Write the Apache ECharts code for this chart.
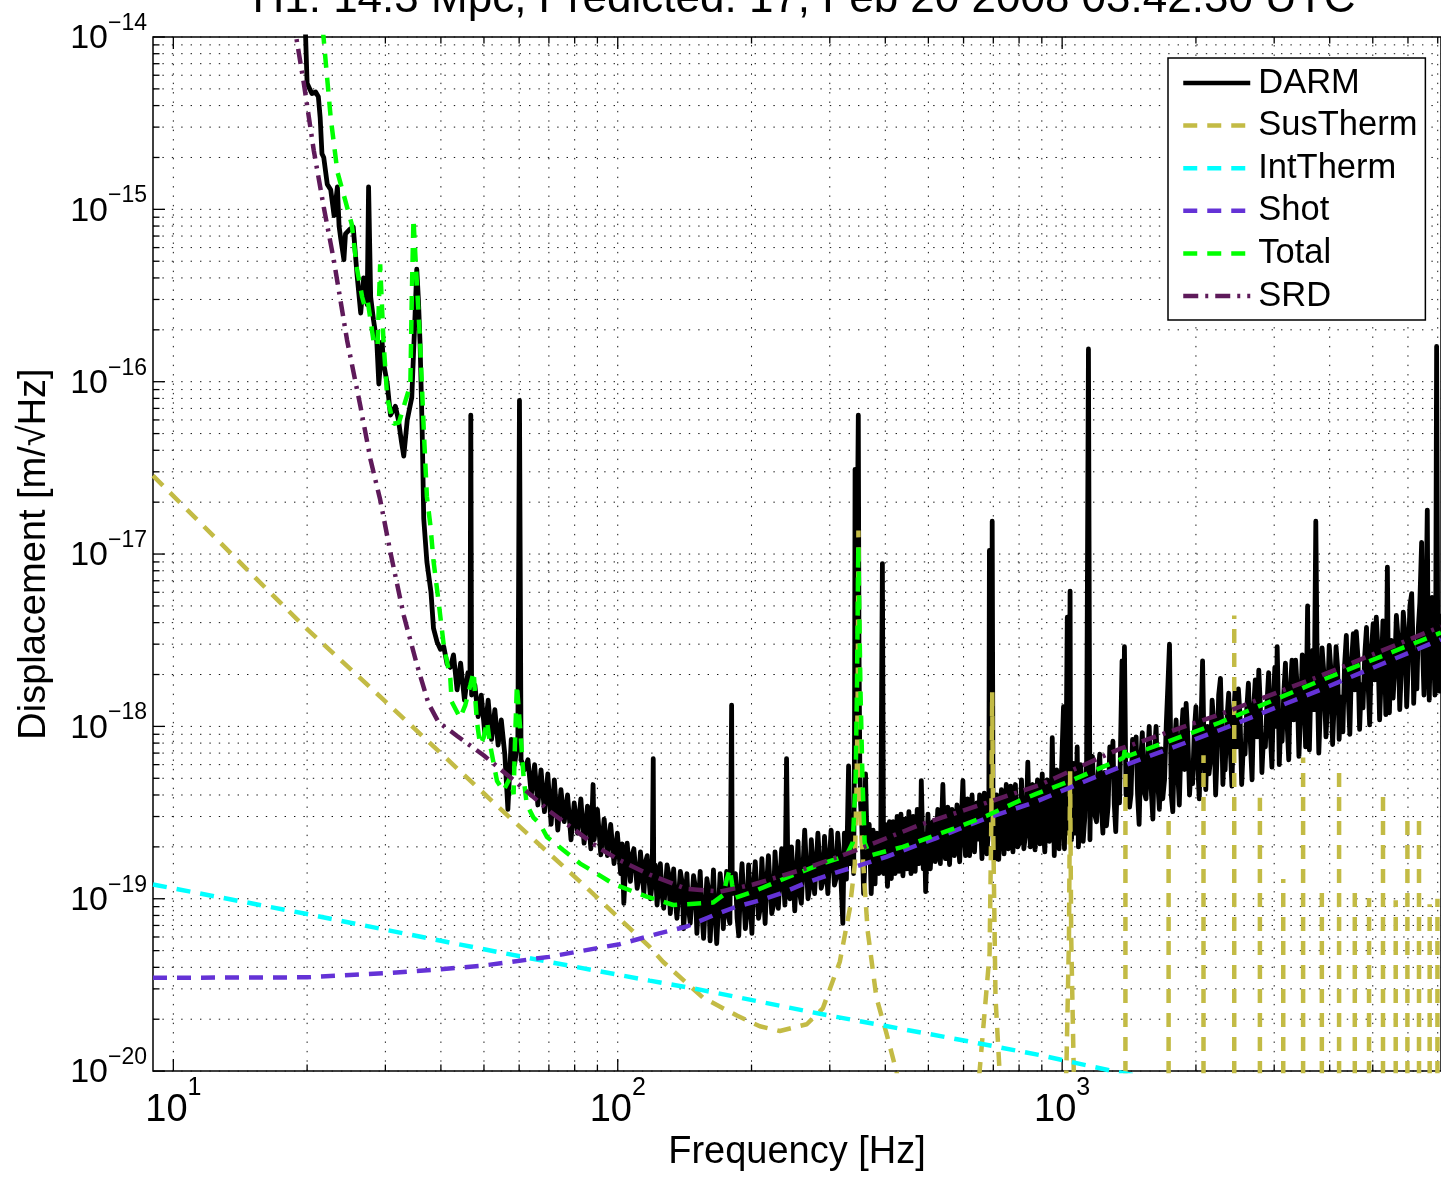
<!DOCTYPE html>
<html><head><meta charset="utf-8">
<script src="https://cdn.jsdelivr.net/npm/echarts@6/dist/echarts.min.js"></script>
<style>html,body{margin:0;padding:0;background:#fff;}#c{width:1441px;height:1177px;}</style>
</head><body><div id="c"></div>
<script>
const titleText = 'H1: 14.3 Mpc, Predicted: 17, Feb 20 2008 03:42:30 UTC';
const xTicks = [10, 100, 1000];
const yTicks = [1e-20, 1e-19, 1e-18, 1e-17, 1e-16, 1e-15, 1e-14];
const xGridVals = [10,20,30,40,50,60,70,80,90,100,200,300,400,500,600,700,800,900,1000,2000,3000,4000,5000,6000,7000];
const yGridMult = [1,2,3,4,5,6,7,8,9];
const yGridDecades = [-20,-19,-18,-17,-16,-15];
const X_MIN = 9, X_MAX = 7120, Y_MIN = 1e-20, Y_MAX = 1e-14;

// DARM: envelope / line features
const darmMain = [
[19.8,1.2e-14],[20.0,5.4e-15],[20.2,5.1e-15],[20.5,4.7e-15],[20.9,4.8e-15],[21.2,4.5e-15],[21.4,3.4e-15],[21.6,2.1e-15],[21.8,2.0e-15],[22.2,1.4e-15],[22.6,1.3e-15],[23.0,9.2e-16],[23.4,1.35e-15],[23.6,8.0e-16],[23.8,6.8e-16],[24.2,5.1e-16],[24.4,7.2e-16],[25.0,7.7e-16],[25.4,7.9e-16],[25.9,4.2e-16],[26.4,2.5e-16],[26.8,4.0e-16],[27.3,2.8e-16],[27.5,1.35e-15],[27.8,3.1e-16],[28.2,2.3e-16],[28.7,1.7e-16],[29.0,9.7e-17],[29.5,1.7e-16],[29.7,1.3e-16],[30.3,9.7e-17],[30.8,6.4e-17],[31.6,7.2e-17],[32.1,6.0e-17],[32.6,4.5e-17],[33.0,3.7e-17],[33.6,6.0e-17],[34.4,8.1e-17],[35.0,2.5e-16],[35.3,4.5e-16],[35.6,3.0e-16],[35.9,1.7e-16],[36.3,5.3e-17],[36.6,1.6e-17],[37.2,9.0e-18],[38.0,6.0e-18],[38.5,3.7e-18],[39.2,3.1e-18],[39.9,2.8e-18],[40.6,2.9e-18],[41.3,2.3e-18],[42.0,2.2e-18],[42.7,2.6e-18],
[43.5,1.63e-18],[44.3,2.33e-18],[45.2,1.42e-18],[46.0,2.05e-18],[46.5,1.74e-18],[46.7,6.4e-17],[46.9,1.52e-18],[47.7,1.74e-18],[48.5,1.14e-18],[49.3,1.52e-18],[50.2,9.2e-19],[51.1,1.42e-18],[52.0,8.4e-19],[52.9,1.25e-18],[53.8,7.8e-19],[54.7,1.09e-18],[55.7,6.9e-19],[56.6,3.3e-19],[57.6,8.4e-19],[58.6,6.0e-19],[59.6,8.4e-19],[60.1,7.8e-17],[60.6,6.4e-19],[61.7,5.6e-19],[62.8,6.4e-19],[63.9,4.0e-19],[65.0,6.0e-19],[66.1,3.5e-19],[67.2,5.6e-19],[68.4,3.2e-19],[69.6,5.3e-19],[70.8,2.7e-19],[72.0,4.9e-19],[73.3,2.5e-19],[74.5,4.3e-19],[75.8,2.8e-19],[77.1,4.0e-19],[78.5,2.2e-19],[79.8,3.6e-19],[81.2,2.4e-19],[82.6,3.8e-19],[84.0,2.1e-19],[85.5,3.45e-19],[87.0,1.95e-19],[88.0,4.6e-19],[88.5,2.2e-19],[90.0,3.3e-19],[91.6,1.8e-19],[93.2,2.9e-19],[94.8,1.78e-19],[96.4,2.7e-19],[98.1,1.6e-19],[99.8,2.4e-19],[101.5,1.4e-19],[103.2,9.4e-20],[105.0,2.1e-19],[106.8,1.26e-19],[108.7,1.95e-19],[110.6,1.15e-19],[112.5,1.87e-19],[114.5,1.07e-19],[116.5,1.78e-19],[118.5,1.0e-19],[120.2,6.5e-19],[120.5,1.4e-19],[122.6,9.2e-20],[124.7,1.6e-19],[126.9,8.8e-20],[129.1,1.57e-19],[131.3,8.2e-20],[133.6,1.49e-19],[135.9,7.7e-20],[138.3,1.44e-19],[140.7,6.7e-20],[143.1,1.4e-19],[145.6,7.2e-20],[148.1,1.36e-19],[150.7,6.3e-20],[153.3,1.44e-19],[156.0,5.9e-20],[158.7,1.31e-19],[161.4,5.7e-20],[164.2,1.47e-19],[167.0,5.5e-20],[170.0,1.4e-19],[172.8,6.7e-20],[175.8,1.44e-19],[178.8,7.2e-20],[180.4,1.33e-18],[181.0,1.07e-19],[184.0,1.4e-19],[187.2,6.1e-20],[190.4,1.6e-19],[193.7,6.7e-20],[197.0,1.57e-19],[200.4,6.3e-20],[203.9,1.64e-19],[207.4,7.7e-20],[211.0,1.71e-19],[214.6,7.2e-20],[218.3,1.78e-19],[222.1,8.2e-20],[225.9,1.87e-19],[229.8,8.8e-20],[233.8,1.95e-19],[237.8,9.2e-20],[239.8,6.5e-19],[241.8,1.07e-19],[246.0,2.0e-19],[250.2,8.5e-20],[254.5,2.15e-19],[258.9,9.4e-20],[263.4,2.5e-19],[268.0,1.0e-19],[272.6,2.2e-19],[277.3,1.07e-19],[282.1,2.4e-19],[287.0,1.15e-19],[291.9,2.3e-19],[297.0,1.07e-19],[302.1,2.5e-19],[307.3,1.2e-19],[312.6,2.4e-19],[318.0,1.26e-19],[321.0,7.2e-20],[323.5,2.4e-19],[327.0,1.3e-19],[330.7,5.9e-19],[333.0,1.6e-19],[336.5,2.7e-19],[339.5,1.4e-19],[341.0,8e-19],[342.0,3.1e-17],[343.5,1.5e-18],[345.0,8e-19],[346.2,1.6e-17],[347.8,6.4e-17],[349.0,3e-18],[350.5,6e-19],[352.0,3.5e-19],[354.0,2.7e-19],[357.5,1.07e-19],[361.0,5.3e-19],[364.5,1.71e-19],[368.0,2.7e-19],[371.8,1.07e-19],[375.5,2.5e-19],[379.3,1.22e-19],[383.1,2.4e-19],[387.0,1.4e-19],[390.8,2.5e-19],[394.0,8.8e-18],[396.5,1.4e-19],[400.5,2.7e-19],[404.5,1.18e-19],[408.6,2.8e-19],[412.7,1.31e-19],[416.8,2.8e-19],[421.0,1.4e-19],[425.2,3.0e-19],[429.5,1.44e-19],[433.8,3.1e-19],[438.2,1.36e-19],[442.6,2.9e-19],[447.0,1.49e-19],[452.0,3.2e-19],[457.0,1.4e-19],[462.0,3.0e-19],[467.0,1.44e-19],[472.0,3.3e-19],[477.0,1.6e-19],[482.0,4.85e-19],[487.0,1.49e-19],[493.0,1.1e-19],[499.0,3.1e-19],[505.0,1.49e-19],[512.0,2.8e-19],[518.0,1.64e-19],[525.0,3.3e-19],[532.0,1.6e-19],[539.0,4.6e-19],[546.0,1.71e-19],[553.0,3.4e-19],[558.0,1.58e-19],[565.0,3.3e-19],[572.0,1.78e-19],[580.0,3.5e-19],[588.0,1.64e-19],[598.0,4.85e-19],[606.0,1.78e-19],[613.0,3.8e-19],[619.0,1.78e-19],[627.0,4.0e-19],[635.0,1.87e-19],[643.0,3.6e-19],[652.0,4.0e-19],[660.0,1.71e-19],[668.0,4.1e-19],[677.0,1.82e-19],[684.0,3.5e-19],[686.0,1.05e-17],[689.0,3.1e-19],[693.0,3.5e-19],[696.0,1.55e-17],[699.0,3.1e-19],[705.0,1.69e-19],[712.0,4.0e-19],[720.0,1.69e-19],[730.0,4.3e-19],[740.0,1.82e-19],[748.6,4.6e-19],[757.0,1.95e-19],[766.0,4.5e-19],[775.0,1.87e-19],[785.0,4.6e-19],[794.0,2.0e-19],[801.0,2.1e-19],[810.0,4.9e-19],[820.0,1.95e-19],[837.0,6.2e-19],[848.0,2.0e-19],[859.0,4.6e-19],[869.0,1.92e-19],[880.0,4.9e-19],[891.0,2.08e-19],[902.0,5.3e-19],[914.0,1.87e-19],[925.0,4.9e-19],[936.0,2.15e-19],[950.0,8.6e-19],[960.0,1.78e-19],[972.0,5.6e-19],[984.0,1.95e-19],[996.0,5.3e-19],[1007.0,1.3e-18],[1012.0,1.95e-19],[1020.0,5.6e-19],[1027.0,4.3e-18],[1034.0,2.4e-19],[1042.0,6.1e-18],[1050.0,2.2e-19],[1062.0,6.1e-19],[1072.0,2.4e-19],[1081.0,7.6e-19],[1088.0,2.0e-19],[1100.0,6.0e-19],[1115.0,2.15e-19],[1135.0,6.4e-19],[1146.0,1.55e-16],[1155.0,2.2e-19],[1170.0,6.7e-19],[1195.0,2.8e-19],[1215.0,6.9e-19],[1235.0,2.4e-19],[1258.0,2.65e-19],[1280.0,7.6e-19],[1301.0,8.2e-19],[1320.0,2.45e-19],[1346.0,3.6e-19],[1364.0,2.4e-18],[1372.0,6.9e-19],[1381.0,2.9e-18],[1392.0,4.0e-19],[1418.0,3.4e-19],[1440.0,8.4e-19],
[1467.0,8.7e-19],[1490.0,2.7e-19],[1515.0,9.2e-19],[1544.0,3.8e-19],[1570.0,1.0e-18],[1600.0,2.9e-19],[1627.0,1.0e-18],[1655.0,3.3e-19],[1684.0,3.8e-19],[1715.0,1.02e-18],[1730.0,1.76e-18],[1744.0,3.0e-18],[1760.0,4.0e-19],[1774.0,3.2e-19],[1805.0,1.09e-18],[1835.0,3.5e-19],[1870.0,1.25e-18],[1901.0,1.36e-18],[1935.0,4.0e-19],[1966.0,4.65e-19],[2000.0,1.3e-18],[2035.0,3.8e-19],[2070.0,2.4e-18],[2105.0,4.3e-19],[2140.0,5.3e-19],[2175.0,1.42e-18],[2215.0,4.0e-19],[2250.0,1.52e-18],[2271.0,1.9e-18],[2300.0,4.6e-19],[2327.0,5.6e-19],[2370.0,1.56e-18],[2410.0,4.5e-19],[2450.0,1.63e-18],[2492.0,1.65e-18],[2535.0,4.6e-19],[2580.0,6.9e-19],[2625.0,1.78e-18],[2675.0,4.9e-19],[2720.0,1.86e-18],[2770.0,2.12e-18],[2815.0,5.4e-19],[2866.0,7.6e-19],[2915.0,2.05e-18],[2965.0,5.8e-19],[3010.0,2.2e-18],[3047.0,2.9e-18],[3080.0,6.0e-19],[3126.0,8.2e-19],[3180.0,2.33e-18],[3235.0,6.4e-19],[3290.0,2.42e-18],[3352.0,2.42e-18],[3410.0,6.7e-19],[3470.0,2.6e-18],[3530.0,7.6e-19],[3567.0,5.0e-18],[3600.0,7.3e-19],[3660.0,2.76e-18],[3722.0,1.55e-17],[3780.0,7.0e-19],[3845.0,2.85e-18],[3923.0,8.7e-19],[3990.0,2.95e-18],[4060.0,7.85e-19],[4134.0,2.9e-18],[4200.0,8.4e-19],[4282.0,9.3e-19],[4360.0,3.37e-18],[4440.0,9.0e-19],[4520.0,3.45e-18],[4590.0,3.55e-18],[4670.0,9.6e-19],[4753.0,1.28e-18],[4840.0,3.75e-18],[4920.0,1.02e-18],[5010.0,3.95e-18],[5092.0,4.3e-18],[5180.0,1.09e-18],[5270.0,4.1e-18],[5350.0,1.17e-18],[5393.0,8.4e-18],[5450.0,1.2e-18],[5555.0,1.46e-18],[5650.0,4.4e-18],[5750.0,1.25e-18],[5856.0,4.6e-18],[5960.0,1.3e-18],[6060.0,5.0e-18],[6116.0,5.9e-18],[6180.0,1.36e-18],[6283.0,1.65e-18],[6380.0,5.2e-18],[6440.0,1.17e-17],[6520.0,1.52e-18],[6632.0,1.8e-17],[6700.0,1.42e-18],[6800.0,5.6e-18],[6900.0,1.52e-18],[6960.0,1.6e-16],[7000.0,3.4e-18],[7060.0,1.6e-18],[7120.0,4.5e-18]
];

// DARM: dense middle of the noise band
const darmFill = [
[102.3,2.08e-19],[104.1,1.49e-19],[107.7,1.78e-19],[111.5,1.31e-19],[115.5,1.64e-19],[119.5,1.22e-19],[121.5,1.57e-19],[125.8,1.07e-19],[130.2,1.4e-19],[134.7,1.0e-19],[139.5,1.26e-19],[144.3,8.79e-20],[149.4,1.18e-19],[154.6,8.4e-20],[160.0,1.13e-19],[165.6,8.23e-20],[171.4,1.1e-19],[177.3,8.0e-20],[182.5,1.07e-19],[185.6,7.7e-20],[188.8,1.15e-19],[195.3,8.23e-20],[202.1,1.2e-19],[209.2,8.79e-20],[216.5,1.26e-19],[224.0,9.1e-20],[231.8,1.31e-19],[244.0,1.0e-19],[248.1,1.36e-19],[256.7,1.07e-19],[261.0,1.49e-19],[270.3,1.15e-19],[279.7,1.6e-19],[289.5,1.26e-19],[299.5,1.71e-19],[310.0,1.31e-19],[315.3,1.82e-19],[325.0,1.4e-19],[355.7,1.78e-19],[359.2,1.44e-19],[366.3,1.87e-19],[373.7,1.47e-19],[381.2,1.95e-19],[389.0,1.57e-19],[398.5,2.08e-19],[406.5,1.6e-19],[414.7,2.08e-19],[423.1,1.64e-19],[431.6,2.15e-19],[440.4,1.69e-19],[449.5,2.22e-19],[459.5,1.78e-19],[469.5,2.3e-19],[479.5,1.82e-19],[490.0,2.38e-19],[502.0,1.87e-19],[515.0,2.45e-19],[528.5,1.92e-19],[542.5,2.5e-19],[555.5,2.0e-19],[568.5,2.56e-19],[584.0,2.08e-19],[602.0,2.62e-19],[616.0,2.15e-19],[631.0,2.71e-19],[647.5,2.22e-19],[664.0,2.8e-19],[680.5,2.22e-19],[702.0,2.85e-19],[716.0,2.3e-19],[735.0,2.9e-19],[752.0,2.38e-19],[770.5,3.0e-19],[789.5,2.45e-19],[805.5,3.1e-19],[828.5,2.45e-19],[842.5,3.2e-19],[864.0,2.5e-19],[885.5,3.2e-19],[908.0,2.5e-19],[930.5,3.25e-19],[943.0,2.56e-19],[966.0,3.3e-19],[990.0,2.62e-19],
[1016,4.04e-19],[1045,2.71e-19],[1068,4.15e-19],[1093,2.65e-19],[1108,4.61e-19],[1125,3.0e-19],[1160,4.7e-19],[1183,3.1e-19],[1205,5.26e-19],[1225,3.45e-19],[1247,5.4e-19],[1269,3.45e-19],[1290,5.26e-19],[1310,3.54e-19],[1333,5.5e-19],[1355,3.6e-19],[1405,6.0e-19],[1429,4.04e-19],[1453,6.2e-19],[1478,4.04e-19],[1502,6.3e-19],[1530,4.15e-19],[1557,6.4e-19],[1585,4.5e-19],[1614,7.2e-19],[1641,4.7e-19],[1670,7.4e-19],[1700,4.9e-19],[1790,7.84e-19],[1820,5.4e-19],[1852,8.37e-19],[1885,5.62e-19],[1918,8.7e-19],[1950,5.8e-19],[1983,9.3e-19],[2017,6.2e-19],[2052,9.56e-19],[2088,6.42e-19],[2122,1.0e-18],[2157,6.42e-19],[2195,1.02e-18],[2232,6.86e-19],[2285,1.05e-18],[2313,7.1e-19],[2348,1.09e-18],[2390,7.33e-19],[2430,1.14e-18],[2470,7.6e-19],[2513,1.17e-18],[2557,7.84e-19],[2602,1.25e-18],[2650,8.37e-19],[2698,1.3e-18],[2745,8.7e-19],[2792,1.33e-18],[2840,8.95e-19],[2890,1.36e-18],[2940,9.2e-19],[2988,1.42e-18],[3030,1.0e-18],[3063,1.52e-18],[3103,1.02e-18],[3153,1.56e-18],[3207,1.05e-18],[3262,1.63e-18],[3320,1.09e-18],[3380,1.68e-18],[3440,1.17e-18],[3500,1.79e-18],[3583,1.2e-18],[3630,1.86e-18],[3690,1.25e-18],[3750,1.93e-18],[3812,1.3e-18],[3880,2.05e-18],[3955,1.36e-18],[4025,2.12e-18],[4097,1.42e-18],[4167,2.2e-18],[4240,1.48e-18],[4320,2.27e-18],[4400,1.56e-18],[4480,2.38e-18],[4555,1.63e-18],[4630,2.52e-18],[4710,1.74e-18],[4796,2.59e-18],[4880,1.79e-18],[4965,2.76e-18],[5050,1.86e-18],[5135,2.85e-18],[5225,1.99e-18],[5310,3.0e-18],[5420,2.05e-18],[5500,3.16e-18],[5600,2.12e-18],[5700,3.27e-18],[5800,2.2e-18],[5910,3.37e-18],[6010,2.33e-18],[6150,3.5e-18],[6230,2.42e-18],[6330,3.7e-18],[6480,2.59e-18],[6580,3.9e-18],[6660,2.68e-18],[6750,4.12e-18],[6850,2.76e-18],[6930,4.3e-18],[7030,2.85e-18],[7090,4.12e-18]
];

const susTherm = [
[9,2.85e-17],[19.6,3.85e-18],[29.7,1.43e-18],[57.3,2.94e-19],[83.6,1.21e-19],[118,5.25e-20],[126.4,4.31e-20],[155.5,2.67e-20],[185.4,2.1e-20],[208.8,1.82e-20],[231.6,1.71e-20],[266.3,1.87e-20],[289.3,2.31e-20],[316,4.31e-20],[332.7,8.7e-20],[341.5,1.58e-19],[345,5.1e-19],[346.8,1.7e-18],[348,1.37e-17],[349.5,1.5e-18],[351.6,2.86e-19],[359.4,1.18e-19],[365.1,6.5e-20],[382,2.67e-20],[402.3,1.66e-20],[423.6,1.0e-20],[440,6e-21],[640,6e-21],[652,1.0e-20],[686.6,4.8e-20],[693,3e-19],[696,1.58e-18],[699,3e-19],[708,2.67e-20],[723,1.0e-20],[735,6e-21],[1010,6e-21],[1022,1.0e-20],[1036,6e-20],[1042,5.5e-19],[1048,6e-20],[1062,1.0e-20],[1075,6e-21],[1076,'-'],
[1388,5e-21],[1388,5.3e-19],[1389,'-'],[1736,5e-21],[1736,3.2e-19],[1737,'-'],[2080,5e-21],[2080,6.8e-19],[2081,'-'],[2439,5e-21],[2439,4.4e-18],[2440,'-'],[2786,5e-21],[2786,3.85e-19],[2787,'-'],[3144,5e-21],[3144,1.3e-19],[3145,'-'],[3485,5e-21],[3485,6.6e-19],[3486,'-'],[3840,5e-21],[3840,1.23e-19],[3841,'-'],[4199,5e-21],[4199,5.6e-19],[4200,'-'],[4555,5e-21],[4555,1.08e-19],[4556,'-'],[4904,5e-21],[4904,1.01e-19],[4905,'-'],[5272,5e-21],[5272,4.0e-19],[5273,'-'],[5631,5e-21],[5631,9.8e-20],[5632,'-'],[5983,5e-21],[5983,3.2e-19],[5984,'-'],[6353,5e-21],[6353,2.9e-19],[6354,'-'],[6714,5e-21],[6714,9.3e-20],[6715,'-'],[6990,5e-21],[6990,1.0e-19]
];

const intTherm = [[9,1.21e-19],[20,8.15e-20],[40,5.7e-20],[70,4.3e-20],[118,3.35e-20],[155,2.95e-20],[285,2.15e-20],[566,1.55e-20],[889,1.24e-20],[1300,1.0e-20],[1600,9e-21]];

const shot = [[9,3.48e-20],[20,3.5e-20],[30,3.7e-20],[40,3.9e-20],[50,4.1e-20],[70,4.6e-20],[91,5.2e-20],[101,5.45e-20],[124,6.3e-20],[143,6.9e-20],[164,8.0e-20],[185,9.0e-20],[209,9.8e-20],[232,1.07e-19],[266,1.24e-19],[305,1.4e-19],[338,1.52e-19],[402,1.75e-19],[521,2.25e-19],[675,2.93e-19],[859,3.6e-19],[1346,5.8e-19],[2257,9.5e-19],[3786,1.62e-18],[7120,3.2e-18]];

const total = [[21.7,1.1e-14],[22.6,3.4e-15],[23.4,1.65e-15],[24.6,1.03e-15],[25.2,8.2e-16],[25.9,4.5e-16],[26.6,3.1e-16],[27.0,2.7e-16],[27.4,2.9e-16],[28.2,1.74e-16],[28.8,1.6e-16],[29.2,4.8e-16],[29.7,1.74e-16],[30.3,8.0e-17],[31.3,5.7e-17],[32.2,5.8e-17],[33.0,7.2e-17],[34.15,9.6e-17],[34.4,3.1e-16],[34.7,8.8e-16],[35.1,5.0e-16],[35.9,1.74e-16],[36.6,5.3e-17],[37.2,2.16e-17],[37.9,1.45e-17],[38.5,9.1e-18],[39.5,5.36e-18],[40.6,2.95e-18],[42.0,1.9e-18],[42.3,1.39e-18],[44.2,1.12e-18],[45.4,1.33e-18],[46.6,1.74e-18],[47.4,2.08e-18],[47.8,1.46e-18],[48.2,1.07e-18],[49.0,7.84e-19],[49.9,8.6e-19],[50.8,1.07e-18],[51.6,7.84e-19],[53.5,4.82e-19],[55.3,4.22e-19],[57.3,5.06e-19],[58.3,4.04e-19],[58.7,7.84e-19],[59.3,1.74e-18],[60.3,9.8e-19],[61.4,5.06e-19],[62.4,3.54e-19],[64.6,2.96e-19],[66.9,2.71e-19],[69.3,2.28e-19],[75.5,1.91e-19],[82.3,1.6e-19],[89.7,1.4e-19],[97.7,1.22e-19],[106.6,1.12e-19],[116.2,1.03e-19],[133.4,9.2e-20],[142.9,9.3e-20],[163.8,9.5e-20],[172.7,1.05e-19],[176.0,1.3e-19],[178.8,1.49e-19],[181.0,1.2e-19],[183.5,1.01e-19],[201.7,1.1e-19],[239.0,1.32e-19],[284.9,1.58e-19],[327.0,1.78e-19],[338.0,2.12e-19],[343.1,5.1e-19],[345.4,1.7e-18],[347.8,1.12e-17],[351.6,1.7e-18],[355.3,5.1e-19],[359.4,2.12e-19],[369.0,1.78e-19],[438.0,2.0e-19],[568.0,2.54e-19],[675.0,3.02e-19],[801.0,3.7e-19],[874.0,4.06e-19],[1039.0,4.8e-19],[1346.0,6.4e-19],[1375.0,6.6e-19],[1388.0,7.7e-19],[1400.0,6.7e-19],[2257.0,1.05e-18],[3786.0,1.83e-18],[7120.0,3.5e-18]];

const srd = [[18.6,1.3e-14],[18.9,1.0e-14],[19.66,5.4e-15],[20.7,2.2e-15],[21.8,1.03e-15],[22.96,5.1e-16],[24.6,1.74e-16],[26.36,7.2e-17],[27.8,3.5e-17],[29.2,2.07e-17],[30.8,1.02e-17],[33.0,4.4e-18],[35.3,2.3e-18],[37.5,1.36e-18],[39.5,1.06e-18],[43.5,8.8e-19],[49.9,6.8e-19],[59.3,4.7e-19],[70.5,3.2e-19],[91.2,1.95e-19],[101.2,1.67e-19],[118,1.38e-19],[142.9,1.14e-19],[169.8,1.1e-19],[201.7,1.21e-19],[261,1.48e-19],[338,1.88e-19],[478,2.68e-19],[675,3.6e-19],[889,4.57e-19],[1346,7.4e-19],[2257,1.17e-18],[3786,1.95e-18],[7120,3.8e-18]];

const seriesNames = ['DARM','SusTherm','IntTherm','Shot','Total','SRD'];
const FONT = '"Liberation Sans", Arial, Helvetica, sans-serif';

const darm = darmMain.concat(darmFill).sort((a, b) => a[0] - b[0]);

const yGridVals = [];
yGridDecades.forEach(d => yGridMult.forEach(m => yGridVals.push(m * Math.pow(10, d))));
yGridVals.push(Y_MAX);

function isMajor(v){ const l = Math.log10(v); return Math.abs(l - Math.round(l)) < 1e-9; }
function supLabel(v){ const e = Math.round(Math.log10(v)); return '{b|10}{e|' + (e < 0 ? '\u2212' + (-e) : String(e)) + '}'; }

const dotStyle = {stroke:'#111', lineWidth:1, lineDash:[1.4, 8]};
const tickStyle = {stroke:'#000', lineWidth:1.3};
const LW_D = 4.8, LW = 4.5;

const chart = echarts.init(document.getElementById('c'));
chart.setOption({
  animation: false,
  backgroundColor: '#fff',
  graphic: [{type:'text', x: 804, y: 0, silent:true, style:{text: titleText, font: '44px ' + FONT, fill:'#000', align:'center', verticalAlign:'middle'}}],
  grid: {left:153, top:37, right:-2, bottom:98, show:true, borderColor:'#000', borderWidth:1.5, backgroundColor:'#fff'},
  legend: {
    data: seriesNames, orient:'vertical', left:1168, top:58, padding:[7.5, 8, 6.5, 13],
    itemWidth:67, itemHeight:14, itemGap:7.6, backgroundColor:'#fff', borderColor:'#000', borderWidth:1.5,
    itemStyle:{opacity:0}, lineStyle:{width:4.5},
    textStyle:{fontSize:34.5, lineHeight:35, fontFamily:FONT, color:'#000', padding:[0,0,0,3]}
  },
  xAxis: {
    type:'log', logBase:10, min:X_MIN, max:X_MAX,
    axisLine:{show:false}, axisTick:{show:false}, splitLine:{show:false}, minorTick:{show:false}, minorSplitLine:{show:false},
    axisLabel:{customValues:xTicks, formatter: v => supLabel(v), margin:5, color:'#000',
      rich:{b:{fontSize:38, fontFamily:FONT, color:'#000', padding:[15,0,0,0], verticalAlign:'bottom'},
            e:{fontSize:25, lineHeight:25, fontFamily:FONT, color:'#000', verticalAlign:'top'}}},
    name:'Frequency [Hz]', nameLocation:'middle', nameGap:59,
    nameTextStyle:{fontSize:38, lineHeight:38, fontFamily:FONT, color:'#000'}
  },
  yAxis: {
    type:'log', logBase:10, min:Y_MIN, max:Y_MAX,
    axisLine:{show:false}, axisTick:{show:false}, splitLine:{show:false}, minorTick:{show:false}, minorSplitLine:{show:false},
    axisLabel:{customValues:yTicks, formatter: v => supLabel(v), margin:6, color:'#000', padding:[0,0,6,0],
      rich:{b:{fontSize:34, fontFamily:FONT, color:'#000', padding:[10,0,0,0], verticalAlign:'bottom'},
            e:{fontSize:23, lineHeight:23, fontFamily:FONT, color:'#000', verticalAlign:'top'}}},
    name:'Displacement [m/\u221AHz]', nameLocation:'middle', nameGap:99,
    nameTextStyle:{fontSize:38, lineHeight:38, fontFamily:FONT, color:'#000'}
  },
  series: [
    {type:'custom', name:'xgrid', coordinateSystem:'cartesian2d', silent:true, z:1, animation:false,
     data: xGridVals.map(f => [f, Y_MIN]), encode:{x:0, y:1},
     renderItem: (params, api) => {
       const f = api.value(0);
       const b = api.coord([f, Y_MIN]), t = api.coord([f, Y_MAX]);
       const L = isMajor(f) ? 12 : 6.5;
       return {type:'group', children:[
         {type:'line', shape:{x1:b[0], y1:b[1], x2:t[0], y2:t[1]}, style:dotStyle},
         {type:'line', shape:{x1:b[0], y1:b[1], x2:b[0], y2:b[1]-L}, style:tickStyle},
         {type:'line', shape:{x1:t[0], y1:t[1], x2:t[0], y2:t[1]+L}, style:tickStyle}
       ]};
     }},
    {type:'custom', name:'ygrid', coordinateSystem:'cartesian2d', silent:true, z:1, animation:false,
     data: yGridVals.map(v => [X_MIN, v]), encode:{x:0, y:1},
     renderItem: (params, api) => {
       const v = api.value(1);
       const l = api.coord([X_MIN, v]), r = api.coord([X_MAX, v]);
       const L = isMajor(v) ? 12 : 6.5;
       return {type:'group', children:[
         {type:'line', shape:{x1:l[0], y1:l[1], x2:r[0], y2:r[1]}, style:dotStyle},
         {type:'line', shape:{x1:l[0], y1:l[1], x2:l[0]+L, y2:l[1]}, style:tickStyle}
       ]};
     }},
    {name:'DARM', type:'line', data:darm, symbol:'none', showSymbol:false, clip:true, z:3,
     lineStyle:{color:'#000', width:LW_D, join:'round'}, itemStyle:{color:'#000'}},
    {name:'SusTherm', type:'line', data:susTherm, symbol:'none', showSymbol:false, clip:true, z:3, connectNulls:false,
     lineStyle:{color:'#c3bb45', width:LW, type:[14,10]}, itemStyle:{color:'#c3bb45'}},
    {name:'IntTherm', type:'line', data:intTherm, symbol:'none', showSymbol:false, clip:true, z:3,
     lineStyle:{color:'#00ffff', width:LW, type:[14,10]}, itemStyle:{color:'#00ffff'}},
    {name:'Shot', type:'line', data:shot, symbol:'none', showSymbol:false, clip:true, z:3,
     lineStyle:{color:'#6432d6', width:LW, type:[14,10]}, itemStyle:{color:'#6432d6'}},
    {name:'Total', type:'line', data:total, symbol:'none', showSymbol:false, clip:true, z:3,
     lineStyle:{color:'#00ff00', width:LW, type:[14,10]}, itemStyle:{color:'#00ff00'}},
    {name:'SRD', type:'line', data:srd, symbol:'none', showSymbol:false, clip:true, z:3,
     lineStyle:{color:'#5e1a5a', width:LW, type:[15,7,3,7]}, itemStyle:{color:'#5e1a5a'}}
  ]
});
</script></body></html>
